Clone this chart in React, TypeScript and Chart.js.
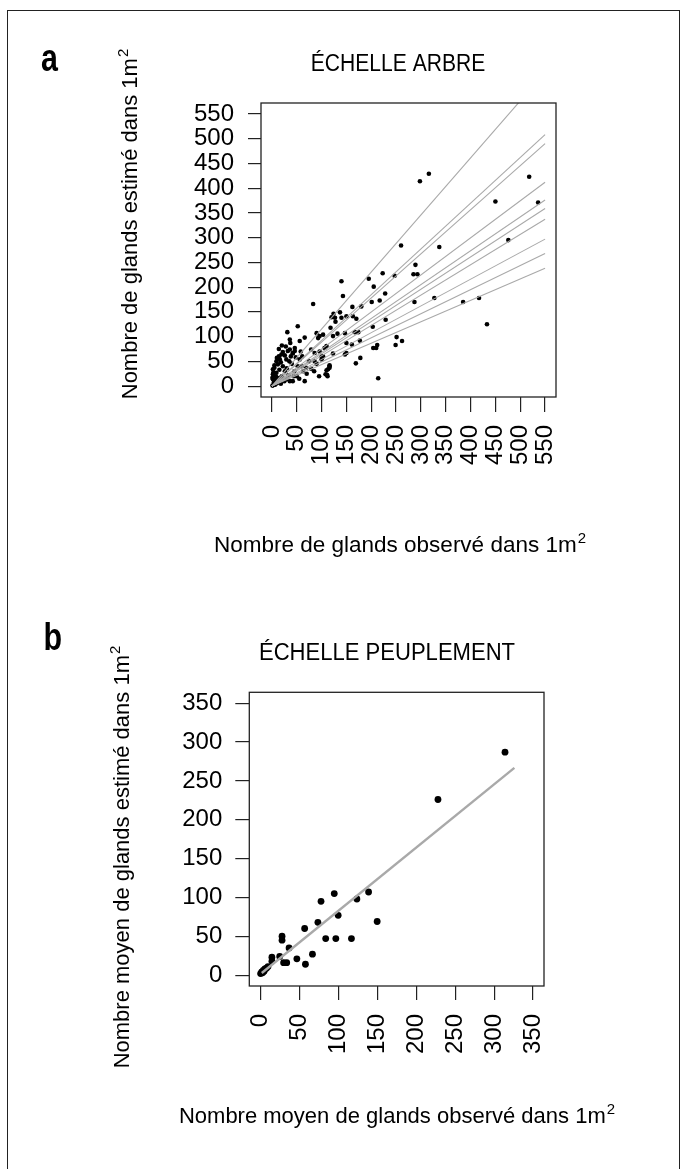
import React, { useEffect, useRef } from 'react';
import { Chart, registerables } from 'chart.js';

Chart.register(...registerables);

// ---------- DATA ----------
// Panel a : tree scale (observed vs estimated acorns per m²)
const treeObs = [
  316, 298, 518, 450, 536, 476, 260, 337, 289, 285, 293, 247, 195, 223, 140, 205, 143, 228, 201, 217,
  287, 327, 385, 417, 433, 83, 180, 120, 124, 137, 150, 163, 170, 128, 229, 203, 52, 31, 90, 96,
  103, 93, 66, 56, 36, 37, 132, 147, 167, 174, 150, 177, 251, 249, 262, 212, 204, 210, 214, 147,
  178, 169, 161, 123, 116, 108, 112, 110, 66, 103, 100, 96, 79, 86, 110, 106, 123, 61, 56, 42,
  46, 22, 19, 26, 32, 36, 42, 46, 29, 16, 9, 12, 5, 2, 9, 2, 1, 2, 16, 29,
  36, 42, 63, 69, 79, 86, 100, 116, 113, 116, 111, 150, 127, 140, 4, 6, 8, 3, 5, 10,
  14, 18, 22, 26, 20, 12, 25, 30, 35, 40, 45, 50, 55, 15, 7, 11, 18, 33, 38, 28,
  20, 14, 48, 60, 70, 75, 85, 90, 95, 58, 52, 44, 3, 1, 6, 10, 15, 24, 162, 118,
];
const treeEst = [
  429, 414, 423, 373, 371, 295, 284, 281, 245, 226, 226, 223, 217, 228, 212, 201, 182, 187, 170, 173,
  170, 178, 170, 178, 125, 166, 161, 139, 146, 149, 141, 141, 136, 130, 134, 120, 121, 109, 107, 101,
  104, 97, 98, 91, 94, 87, 106, 107, 109, 109, 87, 92, 99, 83, 91, 83, 77, 77, 16, 64,
  57, 46, 84, 66, 40, 24, 20, 32, 10, 60, 54, 70, 74, 67, 81, 77, 101, 60, 54, 67,
  77, 69, 64, 62, 71, 74, 66, 71, 54, 54, 50, 44, 37, 34, 27, 24, 17, 14, 17, 14,
  10, 10, 30, 37, 35, 50, 60, 37, 34, 42, 23, 67, 138, 138, 8, 12, 20, 28, 42, 57,
  60, 48, 40, 30, 20, 8, 10, 36, 50, 45, 30, 20, 15, 33, 4, 15, 5, 22, 60, 80,
  82, 75, 58, 40, 25, 50, 30, 45, 20, 70, 40, 20, 2, 1, 3, 6, 10, 14, 160, 118,
];
// Individual tree fit lines: value of each line at x = 550
const treeFitX = [0, 550];
const treeFitEnds = [634, 508, 490, 412, 376, 359, 337, 297, 268, 238];
const treeTicks = [0, 50, 100, 150, 200, 250, 300, 350, 400, 450, 500, 550];

// Panel b : stand scale
const standObs = [
  0.5, 2, 4, 6, 8, 10, 3, 5, 15, 15, 25, 28, 28, 30, 34, 37, 47, 57, 58, 67,
  74, 78, 84, 95, 97, 100, 117, 124, 139, 150, 228, 314,
];
const standEst = [
  2, 4, 6, 8, 9, 11, 3, 5, 18, 23, 24, 45, 50, 16, 16, 35, 21, 60, 14, 27,
  68, 95, 47, 105, 47, 77, 47, 98, 107, 69, 226, 287,
];
const standFitX = [2, 326];
const standFitY = [2.7, 266.7];
const standTicks = [0, 50, 100, 150, 200, 250, 300, 350];

// ---------- HELPERS ----------
const FONT = '"Liberation Sans", Arial, Helvetica, sans-serif';

type TextItem = {
  text: string;
  sup?: string;
  x: number;
  y: number;
  size: number;
  bold?: boolean;
  rotate?: boolean;
  align?: 'left' | 'center';
  sx?: number;
};

function drawTexts(ctx: CanvasRenderingContext2D, items: TextItem[]) {
  for (const it of items) {
    ctx.save();
    ctx.fillStyle = '#000';
    ctx.textBaseline = 'alphabetic';
    ctx.textAlign = 'left';
    const mainFont = `${it.bold ? 'bold ' : ''}${it.size}px ${FONT}`;
    const supSize = Math.round(it.size * 0.68);
    const supFont = `${supSize}px ${FONT}`;
    const sx = it.sx ?? 1;
    ctx.font = mainFont;
    const mainW = ctx.measureText(it.text).width * sx;
    let supW = 0;
    if (it.sup) {
      ctx.font = supFont;
      supW = ctx.measureText(it.sup).width + 1;
    }
    const total = mainW + supW;
    ctx.translate(it.x, it.y);
    if (it.rotate) ctx.rotate(-Math.PI / 2);
    const start = it.align === 'left' ? 0 : -total / 2;
    ctx.font = mainFont;
    ctx.save();
    ctx.translate(start, 0);
    ctx.scale(sx, 1);
    ctx.fillText(it.text, 0, 0);
    ctx.restore();
    if (it.sup) {
      ctx.font = supFont;
      ctx.fillText(it.sup, start + mainW + 1, -it.size * 0.42);
    }
    ctx.restore();
  }
}

function makePlugins(texts: TextItem[]) {
  return [
    {
      id: 'boxAndTexts',
      afterDraw(chart: any) {
        const { ctx, chartArea: a } = chart;
        ctx.save();
        ctx.strokeStyle = '#222';
        ctx.lineWidth = 1.3;
        ctx.strokeRect(a.left, a.top, a.right - a.left, a.bottom - a.top);
        ctx.restore();
        drawTexts(ctx, texts);
      },
    },
  ];
}

function axis(
  min: number,
  max: number,
  ticks: number[],
  horizontal: boolean,
  tickLength: number,
  padding: number
) {
  return {
    type: 'linear',
    min,
    max,
    afterBuildTicks: (s: any) => {
      s.ticks = ticks.map((v) => ({ value: v }));
    },
    afterFit: (s: any) => {
      if (horizontal) {
        s.height = 100;
        s.paddingLeft = 0;
        s.paddingRight = 0;
      } else {
        s.width = 100;
        s.paddingTop = 0;
        s.paddingBottom = 0;
      }
    },
    grid: {
      display: true,
      drawOnChartArea: false,
      drawTicks: true,
      tickLength,
      color: '#222',
      lineWidth: 1.2,
    },
    border: { display: false },
    ticks: {
      autoSkip: false,
      padding,
      color: '#000',
      font: { family: FONT, size: 24 },
      minRotation: horizontal ? 90 : 0,
      maxRotation: horizontal ? 90 : 0,
      callback: (v: any) => String(v),
    },
  };
}

function PanelA() {
  const ref = useRef<HTMLCanvasElement | null>(null);
  useEffect(() => {
    if (!ref.current) return;
    const lineSets = treeFitEnds.map((end) => ({
      data: [
        { x: treeFitX[0], y: 0 },
        { x: treeFitX[1], y: end },
      ],
      showLine: true,
      borderColor: '#a9a9a9',
      borderWidth: 1.1,
      pointRadius: 0,
      fill: false,
    }));
    const texts: TextItem[] = [
      { text: 'a', x: 41, y: 70.7, size: 38, bold: true, align: 'left', sx: 0.8 },
      { text: 'ÉCHELLE ARBRE', x: 398, y: 70.7, size: 24.5, sx: 0.86 },
      { text: 'Nombre de glands estimé dans 1m', sup: '2', x: 137, y: 224, size: 22, rotate: true },
      { text: 'Nombre de glands observé dans 1m', sup: '2', x: 400, y: 552, size: 22.5 },
    ];
    const chart = new Chart(ref.current, {
      type: 'scatter',
      data: {
        datasets: [
          ...lineSets,
          {
            data: treeObs.map((x, i) => ({ x, y: treeEst[i] })),
            backgroundColor: '#000',
            borderWidth: 0,
            pointRadius: 2.3,
          },
        ] as any,
      },
      options: {
        animation: false,
        responsive: false,
        devicePixelRatio: 1,
        layout: { padding: { left: 161, right: 125, top: 103, bottom: 93 } },
        plugins: { legend: { display: false }, tooltip: { enabled: false }, title: { display: false } },
        scales: {
          x: axis(-22, 572, treeTicks, true, 15, 13) as any,
          y: axis(-22, 572, treeTicks, false, 13, 14) as any,
        },
      },
      plugins: makePlugins(texts) as any,
    });
    return () => chart.destroy();
  }, []);
  return (
    <canvas
      ref={ref}
      width={681}
      height={590}
      style={{ position: 'absolute', left: 0, top: 0, width: 681, height: 590 }}
    />
  );
}

function PanelB() {
  const ref = useRef<HTMLCanvasElement | null>(null);
  useEffect(() => {
    if (!ref.current) return;
    const texts: TextItem[] = [
      { text: 'b', x: 43.5, y: 60, size: 38, bold: true, align: 'left', sx: 0.8 },
      { text: 'ÉCHELLE PEUPLEMENT', x: 387, y: 70, size: 24.5, sx: 0.9 },
      { text: 'Nombre moyen de glands estimé dans 1m', sup: '2', x: 129, y: 267, size: 22, rotate: true },
      { text: 'Nombre moyen de glands observé dans 1m', sup: '2', x: 397, y: 533, size: 22 },
    ];
    const chart = new Chart(ref.current, {
      type: 'scatter',
      data: {
        datasets: [
          {
            data: standFitX.map((x, i) => ({ x, y: standFitY[i] })),
            showLine: true,
            borderColor: '#a9a9a9',
            borderWidth: 2.4,
            pointRadius: 0,
            fill: false,
          },
          {
            data: standObs.map((x, i) => ({ x, y: standEst[i] })),
            backgroundColor: '#000',
            borderWidth: 0,
            pointRadius: 3.4,
          },
        ] as any,
      },
      options: {
        animation: false,
        responsive: false,
        devicePixelRatio: 1,
        layout: { padding: { left: 149.3, right: 137, top: 102.3, bottom: 83 } },
        plugins: { legend: { display: false }, tooltip: { enabled: false }, title: { display: false } },
        scales: {
          x: axis(-14, 364, standTicks, true, 14, 14) as any,
          y: axis(-14, 364, standTicks, false, 14, 13) as any,
        },
      },
      plugins: makePlugins(texts) as any,
    });
    return () => chart.destroy();
  }, []);
  return (
    <canvas
      ref={ref}
      width={681}
      height={579}
      style={{ position: 'absolute', left: 0, top: 590, width: 681, height: 579 }}
    />
  );
}

export default function App() {
  return (
    <div
      style={{
        position: 'absolute',
        left: 0,
        top: 0,
        width: 681,
        height: 1169,
        overflow: 'hidden',
        background: '#fff',
      }}
    >
      <div
        style={{
          position: 'absolute',
          left: 7,
          top: 10,
          width: 671,
          height: 1300,
          border: '1.5px solid #222',
        }}
      />
      <PanelA />
      <PanelB />
    </div>
  );
}
